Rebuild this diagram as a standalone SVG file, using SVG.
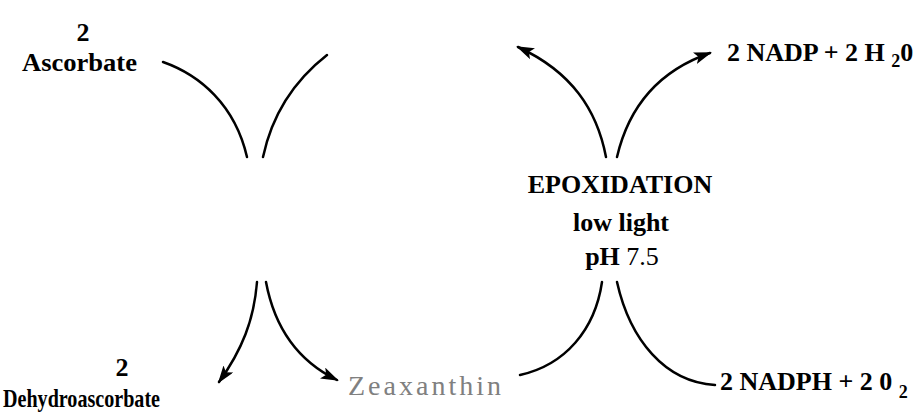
<svg xmlns="http://www.w3.org/2000/svg" width="922" height="416" viewBox="0 0 922 416">
<defs>
<style>
.t{font-family:"Liberation Serif","Times New Roman",serif;font-weight:bold;font-size:26px;fill:#000}
.z{font-family:"Liberation Serif","Times New Roman",serif;font-weight:normal;font-size:28px;fill:#808080;letter-spacing:3px}
.c{fill:none;stroke:#000;stroke-width:2.5;stroke-linecap:round}
</style>
<marker id="ah" viewBox="0 0 18 12" markerWidth="18" markerHeight="12" refX="16" refY="6" orient="auto" markerUnits="userSpaceOnUse">
<path d="M0,0 L18,6 L0,12 L4,6 z" fill="#000"/>
</marker>
</defs>
<rect width="922" height="416" fill="#fff"/>
<g id="connectors">
<path class="c" d="M163,62 C200,75 235,105 247,157"/>
<path class="c" d="M327,55 C295,80 272,115 263,157"/>
<path class="c" d="M257,282 C254,320 242,350 219,382" marker-end="url(#ah)"/>
<path class="c" d="M266,282 C275,330 300,362 337,380" marker-end="url(#ah)"/>
<path class="c" d="M520,375 C565,365 595,330 602,282"/>
<path class="c" d="M617,282 C630,340 665,382 715,385"/>
<path class="c" d="M606,157 C597,110 572,72 518,47" marker-end="url(#ah)"/>
<path class="c" d="M617,157 C628,110 655,72 710,53" marker-end="url(#ah)"/>
</g>
<g id="ascorbate">
<text class="t" x="83" y="41" text-anchor="middle">2</text>
<text class="t" x="22" y="71" textLength="115" lengthAdjust="spacingAndGlyphs">Ascorbate</text>
</g>
<g id="nadp">
<text class="t" x="727" y="61">2 NADP + 2 H <tspan font-size="18" dy="6">2</tspan><tspan dy="-6">0</tspan></text>
</g>
<g id="epoxidation">
<text class="t" x="620" y="193" text-anchor="middle">EPOXIDATION</text>
<text class="t" x="621" y="231" text-anchor="middle">low light</text>
<text class="t" x="622" y="265" text-anchor="middle">pH <tspan font-weight="normal">7.5</tspan></text>
</g>
<g id="dehydroascorbate">
<text class="t" x="122" y="376" text-anchor="middle">2</text>
<text class="t" x="3" y="407" textLength="157" lengthAdjust="spacingAndGlyphs">Dehydroascorbate</text>
</g>
<g id="zeaxanthin">
<text class="z" x="348" y="395">Zeaxanthin</text>
</g>
<g id="nadph">
<text class="t" x="720" y="390" font-size="27">2 NADPH + 2 0 <tspan font-size="18" dy="8">2</tspan></text>
</g>
</svg>
